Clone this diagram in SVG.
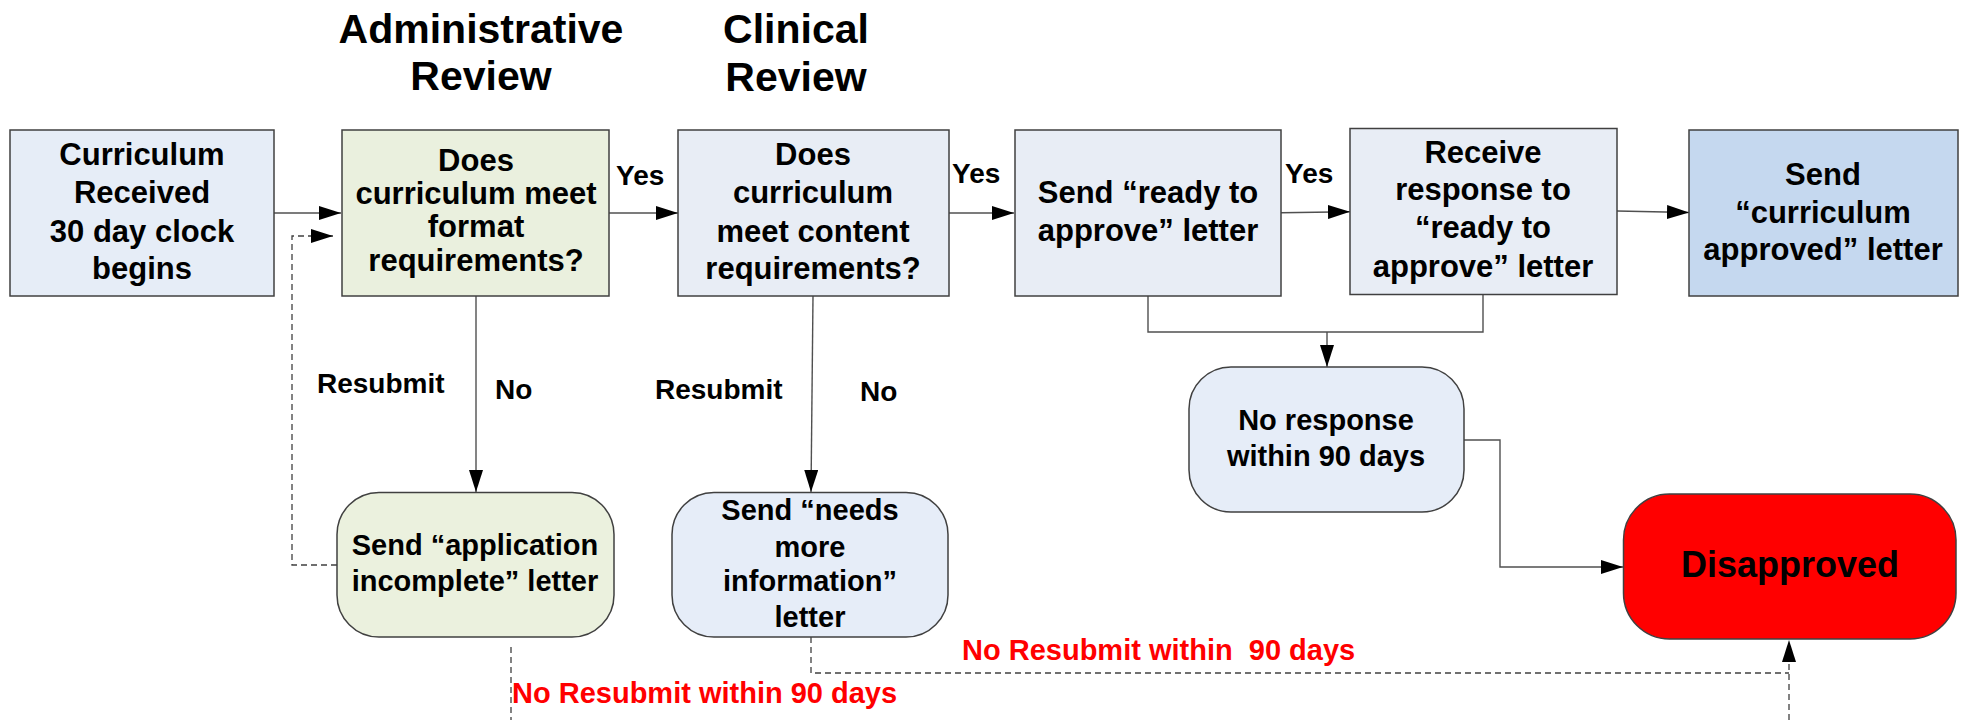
<svg xmlns="http://www.w3.org/2000/svg" width="1963" height="720" viewBox="0 0 1963 720">
<style>
text{font-family:"Liberation Sans",Arial,sans-serif;font-weight:bold;fill:#000}
.t{font-size:31px;text-anchor:middle}
.r{font-size:29px;text-anchor:middle}
.h{font-size:41px;text-anchor:middle}
.l{font-size:28px}
.red{font-size:29px;fill:#FF0000}
.box{stroke:#404040;stroke-width:1.5}
.c{fill:none;stroke:#505050;stroke-width:1.4}
.d{fill:none;stroke:#404040;stroke-width:1.3;stroke-dasharray:6 4}
</style>
<defs>
<marker id="ah" markerUnits="userSpaceOnUse" viewBox="0 0 22 14" refX="22" refY="7" markerWidth="22" markerHeight="14" orient="auto">
<path d="M0,0 L22,7 L0,14 z" fill="#000"/>
</marker>
</defs>
<g id="titles">
<text class="h" x="481" y="43">Administrative</text>
<text class="h" x="481" y="90">Review</text>
<text class="h" x="796" y="43">Clinical</text>
<text class="h" x="796" y="91">Review</text>
</g>
<g id="connectors">
<path class="c" d="M274,213 L341,213" marker-end="url(#ah)"/>
<path class="d" d="M337,565 L292,565 L292,236 L333,236" marker-end="url(#ah)"/>
<path class="c" d="M609,213 L678,213" marker-end="url(#ah)"/>
<path class="c" d="M949,213 L1014,213" marker-end="url(#ah)"/>
<path class="c" d="M1281,212.7 L1350,211.7" marker-end="url(#ah)"/>
<path class="c" d="M1617,211 L1689,212.5" marker-end="url(#ah)"/>
<path class="c" d="M476,296 L476,492" marker-end="url(#ah)"/>
<path class="c" d="M813,296 L811,492" marker-end="url(#ah)"/>
<path class="c" d="M1148,296 L1148,332 L1483,332 L1483,295"/>
<path class="c" d="M1327,332 L1327,367" marker-end="url(#ah)"/>
<path class="c" d="M1464,440 L1500,440 L1500,567 L1623,567" marker-end="url(#ah)"/>
<path class="d" d="M811,637 L811,673 L1789,673"/>
<path class="d" d="M1789,720 L1789,640" marker-end="url(#ah)"/>
<path class="d" d="M511,647 L511,720"/>
<text class="l" x="616" y="185">Yes</text>
<text class="l" x="952" y="183">Yes</text>
<text class="l" x="1285" y="183">Yes</text>
<text class="l" x="317" y="393">Resubmit</text>
<text class="l" x="495" y="399">No</text>
<text class="l" x="655" y="399">Resubmit</text>
<text class="l" x="860" y="401">No</text>
<text class="red" x="512" y="703">No Resubmit within 90 days</text>
<text class="red" x="962" y="660" xml:space="preserve">No Resubmit within  90 days</text>
</g>
<g id="n1">
<rect class="box" x="10" y="130" width="264" height="166" fill="#E6EDF7"/>
<text class="t" x="142" y="165">Curriculum</text>
<text class="t" x="142" y="203">Received</text>
<text class="t" x="142" y="241.5">30 day clock</text>
<text class="t" x="142" y="279">begins</text>
</g>
<g id="n2">
<rect class="box" x="342" y="130" width="267" height="166" fill="#EAF0DE"/>
<text class="t" x="476" y="170.5">Does</text>
<text class="t" x="476" y="204">curriculum meet</text>
<text class="t" x="476" y="237">format</text>
<text class="t" x="476" y="270.5">requirements?</text>
</g>
<g id="n3">
<rect class="box" x="678" y="130" width="271" height="166" fill="#E8EDF5"/>
<text class="t" x="813" y="165">Does</text>
<text class="t" x="813" y="203">curriculum</text>
<text class="t" x="813" y="241.5">meet content</text>
<text class="t" x="813" y="279">requirements?</text>
</g>
<g id="n4">
<rect class="box" x="1015" y="130" width="266" height="166" fill="#E8EDF5"/>
<text class="t" x="1148" y="203">Send “ready to</text>
<text class="t" x="1148" y="240.5">approve” letter</text>
</g>
<g id="n5">
<rect class="box" x="1350" y="128.5" width="267" height="166" fill="#E8EDF5"/>
<text class="t" x="1483" y="163">Receive</text>
<text class="t" x="1483" y="200">response to</text>
<text class="t" x="1483" y="238">“ready to</text>
<text class="t" x="1483" y="276.5">approve” letter</text>
</g>
<g id="n6">
<rect class="box" x="1689" y="130" width="269" height="166" fill="#C5D8EF"/>
<text class="t" x="1823" y="185">Send</text>
<text class="t" x="1823" y="222.5">“curriculum</text>
<text class="t" x="1823" y="260">approved” letter</text>
</g>
<g id="n7">
<rect class="box" x="337" y="492.5" width="277" height="144.5" rx="42" ry="42" fill="#EBF1DE"/>
<text class="r" x="475" y="555">Send “application</text>
<text class="r" x="475" y="590.5">incomplete” letter</text>
</g>
<g id="n8">
<rect class="box" x="672" y="492.5" width="276" height="144.5" rx="42" ry="42" fill="#E6EDF8"/>
<text class="r" x="810" y="520">Send “needs</text>
<text class="r" x="810" y="556.5">more</text>
<text class="r" x="810" y="591">information”</text>
<text class="r" x="810" y="626.5">letter</text>
</g>
<g id="n9">
<rect class="box" x="1189" y="367" width="275" height="145" rx="42" ry="42" fill="#E6EDF8"/>
<text class="r" x="1326" y="430">No response</text>
<text class="r" x="1326" y="466">within 90 days</text>
</g>
<g id="n10">
<rect class="box" x="1623.5" y="494" width="332.5" height="145" rx="46" ry="46" fill="#FF0000"/>
<text x="1790" y="577" style="font-size:36px;text-anchor:middle">Disapproved</text>
</g>
</svg>
